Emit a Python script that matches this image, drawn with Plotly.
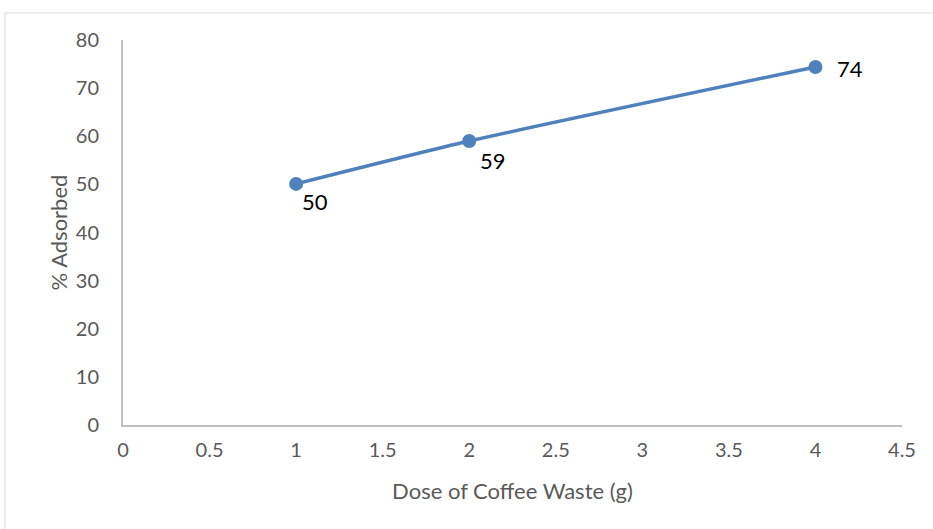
import plotly.graph_objects as go

# Adsorption vs. dose of coffee waste
dose_g = [1, 2, 4]
pct_adsorbed = [50.1, 59.0, 74.4]
label_dx = [4, 9, 20]
label_dy = [-18, -19, -2]

x_ticks = [0, 0.5, 1, 1.5, 2, 2.5, 3, 3.5, 4, 4.5]
y_ticks = [0, 10, 20, 30, 40, 50, 60, 70, 80]

W, H = 933, 529
L, R, T, B = 123, 31, 40, 104
FONT = "Lato, Open Sans, Liberation Sans, sans-serif"

fig = go.Figure()
fig.add_trace(go.Scatter(
    x=dose_g, y=pct_adsorbed,
    mode="lines+markers",
    line=dict(color="#4f81bd", width=3.5, shape="spline", smoothing=0.6),
    marker=dict(color="#4f81bd", size=14),
    cliponaxis=False,
    showlegend=False,
))

# value labels next to each point
for xv, yv, dx, dy in zip(dose_g, pct_adsorbed, label_dx, label_dy):
    fig.add_annotation(
        x=xv, y=yv, text=f"{yv:.0f}", showarrow=False,
        xanchor="left", yanchor="middle", xshift=dx, yshift=dy,
        font=dict(family=FONT, size=22, color="#000000"),
    )

axis_font = dict(family=FONT, size=20, color="#595959")
title_font = dict(family=FONT, size=22, color="#595959")

fig.update_xaxes(
    range=[0, 4.5], tickvals=x_ticks, ticktext=[f"{v:g}" for v in x_ticks],
    showgrid=False, zeroline=False, showline=True, linecolor="#bfbfbf", linewidth=2,
    ticks="", tickfont=axis_font, ticklabelstandoff=6,
    title=dict(text="Dose of Coffee Waste (g)", font=title_font, standoff=24),
)
fig.update_yaxes(
    range=[0, 80], tickvals=y_ticks,
    showgrid=False, zeroline=False, showline=True, linecolor="#bfbfbf", linewidth=2,
    ticks="", tickfont=axis_font, ticklabelstandoff=18,
    title=dict(text="% Adsorbed", font=title_font, standoff=2),
)

pw = W - L - R
ph = H - T - B
fig.add_shape(type="line", xref="paper", yref="paper",
              x0=(5 - L) / pw, x1=(W - L) / pw, y0=(H - 13 - B) / ph, y1=(H - 13 - B) / ph,
              line=dict(color="#d9d9d9", width=1))
fig.add_shape(type="line", xref="paper", yref="paper",
              x0=(5 - L) / pw, x1=(5 - L) / pw, y0=(-B) / ph, y1=(H - 13 - B) / ph,
              line=dict(color="#d9d9d9", width=1))

fig.update_layout(
    width=W, height=H,
    margin=dict(l=L, r=R, t=T, b=B),
    paper_bgcolor="white", plot_bgcolor="white",
)

fig.write_html("out.html")
